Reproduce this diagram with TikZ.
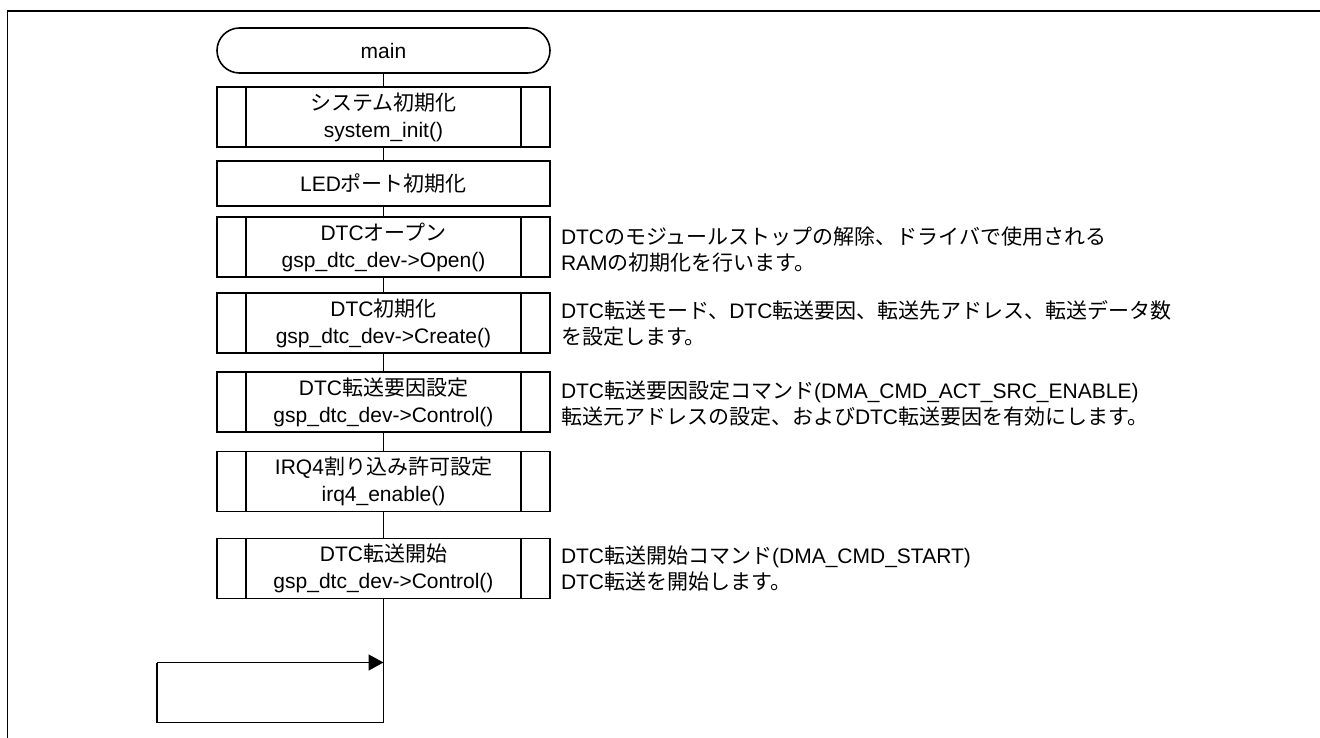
\documentclass[tikz,border=0pt]{standalone}
\usepackage{fontspec}
\setmainfont{Liberation Sans}
\newfontfamily\jpfont{Noto Sans CJK JP}
\newcommand{\jtxt}[1]{{\jpfont #1}}
\usetikzlibrary{arrows.meta}
\tikzset{
  box/.style={draw, line width=1.6pt, minimum width=333pt, minimum height=60pt,
    inner sep=0pt, align=center, font=\fontsize{21}{27}\selectfont},
  term/.style={box, rounded corners=22.5pt, minimum height=45pt},
  plainbox/.style={box, minimum height=45pt},
  note/.style={anchor=west, align=left, inner sep=0pt, font=\fontsize{21}{26}\selectfont},
  conn/.style={line width=1.6pt},
  frameline/.style={line width=1.8pt}
}
\begin{document}
\begin{tikzpicture}[x=1pt,y=-1pt]
\useasboundingbox (0,0) rectangle (1320,738);
% frame
\coordinate (fbl) at (7.5,740);
\coordinate (ftl) at (7.5,11);
\coordinate (ftr) at (1322,11);
\draw[frameline] (fbl) -- (ftl) -- (ftr);

% nodes
\node[term] (main) at (383.5,50.5) {main};
\node[box] (sys) at (383.5,117) {\jtxt{システム初期化}\\system\_init()};
\node[plainbox] (led) at (383.5,183.5) {LED\jtxt{ポート初期化}};
\node[box] (open) at (383.5,247) {DTC\jtxt{オープン}\\gsp\_dtc\_dev->Open()};
\node[box] (init) at (383.5,323) {DTC\jtxt{初期化}\\gsp\_dtc\_dev->Create()};
\node[box] (ctrl) at (383.5,402) {DTC\jtxt{転送要因設定}\\gsp\_dtc\_dev->Control()};
\node[box] (irq) at (383.5,481.5) {IRQ4\jtxt{割り込み許可設定}\\irq4\_enable()};
\node[box] (start) at (383.5,568.5) {DTC\jtxt{転送開始}\\gsp\_dtc\_dev->Control()};

% inner vertical lines of predefined-process boxes
\foreach \n in {sys,open,init,ctrl,irq,start}{
  \draw[conn] ([xshift=30pt]\n.north west) -- ([xshift=30pt]\n.south west);
  \draw[conn] ([xshift=-30pt]\n.north east) -- ([xshift=-30pt]\n.south east);
}

% notes
\node[note] (nopen) at ([xshift=10pt,yshift=-3pt]open.east)
  {DTC\jtxt{のモジュールストップの解除、ドライバで使用される}\\RAM\jtxt{の初期化を行います。}};
\node[note] (ninit) at ([xshift=10pt]init.east)
  {DTC\jtxt{転送モード、}DTC\jtxt{転送要因、転送先アドレス、転送データ数}\\\jtxt{を設定します。}};
\node[note] (nctrl) at ([xshift=10pt,yshift=-2pt]ctrl.east)
  {DTC\jtxt{転送要因設定コマンド}(DMA\_CMD\_ACT\_SRC\_ENABLE)\\\jtxt{転送元アドレスの設定、および}DTC\jtxt{転送要因を有効にします。}};
\node[note] (nstart) at ([xshift=10pt]start.east)
  {DTC\jtxt{転送開始コマンド}(DMA\_CMD\_START)\\DTC\jtxt{転送を開始します。}};

% connectors
\draw[conn] (main) -- (sys);
\draw[conn] (sys) -- (led);
\draw[conn] (led) -- (open);
\draw[conn] (open) -- (init);
\draw[conn] (init) -- (ctrl);
\draw[conn] (ctrl) -- (irq);
\draw[conn] (irq) -- (start);

\coordinate (lbot) at (383.5,722.5);
\coordinate (lbl) at (157,722.5);
\coordinate (ltl) at (157,662.5);
\coordinate (larr) at (383.5,662.5);
\draw[conn] (start.south) -- (lbot) -- (lbl) -- (ltl);
\draw[conn, -{Triangle[length=15pt,width=16pt]}] (ltl) -- (larr);
\end{tikzpicture}
\end{document}
